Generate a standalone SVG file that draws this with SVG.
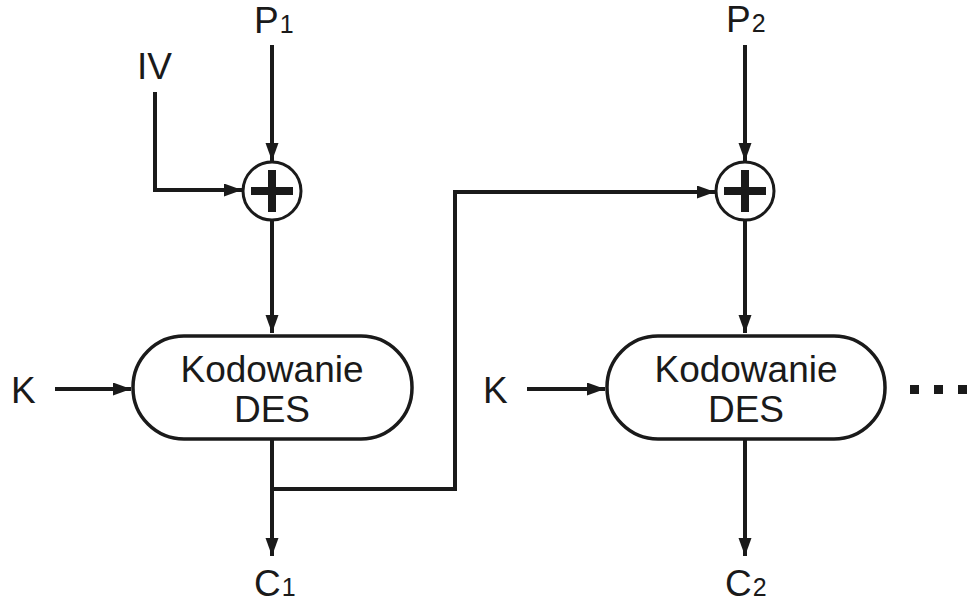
<svg xmlns="http://www.w3.org/2000/svg" width="968" height="604" viewBox="0 0 968 604">
<style>
text{font-family:"Liberation Sans",Arial,sans-serif;fill:#1a1a1a}
.lbl{font-size:37px}
.sub{font-size:25px}
.box{fill:#fff;stroke:#1a1a1a;stroke-width:3.5}
.xor circle{fill:#fff;stroke:#1a1a1a;stroke-width:3}
.plus{stroke:#1a1a1a;stroke-width:8}
.c{fill:none;stroke:#1a1a1a;stroke-width:4}
</style>
<defs>
<marker id="ah" markerUnits="userSpaceOnUse" markerWidth="20" markerHeight="14" refX="18" refY="6.5" orient="auto">
<path d="M0,0 L18,6.5 L0,13 Z" fill="#1a1a1a"/>
</marker>
</defs>
<g id="connectors">
<path class="c" d="M272,45 V161" marker-end="url(#ah)"/>
<path class="c" d="M155,92 V190 H242" marker-end="url(#ah)"/>
<path class="c" d="M272,220 V333" marker-end="url(#ah)"/>
<path class="c" d="M55,389 H131" marker-end="url(#ah)"/>
<path class="c" d="M272,440 V556" marker-end="url(#ah)"/>
<path class="c" d="M272,489 H455 V192 H715" marker-end="url(#ah)"/>
<path class="c" d="M745,45 V161" marker-end="url(#ah)"/>
<path class="c" d="M745,220 V333" marker-end="url(#ah)"/>
<path class="c" d="M527,389 H605" marker-end="url(#ah)"/>
<path class="c" d="M745,440 V556" marker-end="url(#ah)"/>
</g>
<g id="label-P1"><text class="lbl" x="254" y="33">P<tspan class="sub" dx="1">1</tspan></text></g>
<g id="label-IV"><text class="lbl" x="137" y="79">IV</text></g>
<g id="xor1" class="xor"><circle cx="272" cy="191" r="29"/><path class="plus" d="M251,191 H293 M272,170 V212"/></g>
<g id="label-K1"><text class="lbl" x="11" y="403">K</text></g>
<g id="des1"><rect class="box" x="133" y="336" width="279" height="103" rx="51" ry="51"/>
<text class="lbl" x="272" y="382" text-anchor="middle">Kodowanie</text>
<text class="lbl" x="272" y="422" text-anchor="middle">DES</text></g>
<g id="label-C1"><text class="lbl" x="254" y="596">C<tspan class="sub" dx="1">1</tspan></text></g>
<g id="label-P2"><text class="lbl" x="726" y="32">P<tspan class="sub" dx="1">2</tspan></text></g>
<g id="xor2" class="xor"><circle cx="745" cy="191" r="29"/><path class="plus" d="M724,191 H766 M745,170 V212"/></g>
<g id="label-K2"><text class="lbl" x="483" y="403">K</text></g>
<g id="des2"><rect class="box" x="607" y="336" width="278" height="103" rx="51" ry="51"/>
<text class="lbl" x="746" y="382" text-anchor="middle">Kodowanie</text>
<text class="lbl" x="746" y="422" text-anchor="middle">DES</text></g>
<g id="label-C2"><text class="lbl" x="725" y="596">C<tspan class="sub" dx="1">2</tspan></text></g>
<g id="ellipsis" fill="#1a1a1a"><rect x="910" y="385" width="9" height="9"/><rect x="934" y="385" width="9" height="9"/><rect x="958" y="385" width="9" height="9"/></g>
</svg>
